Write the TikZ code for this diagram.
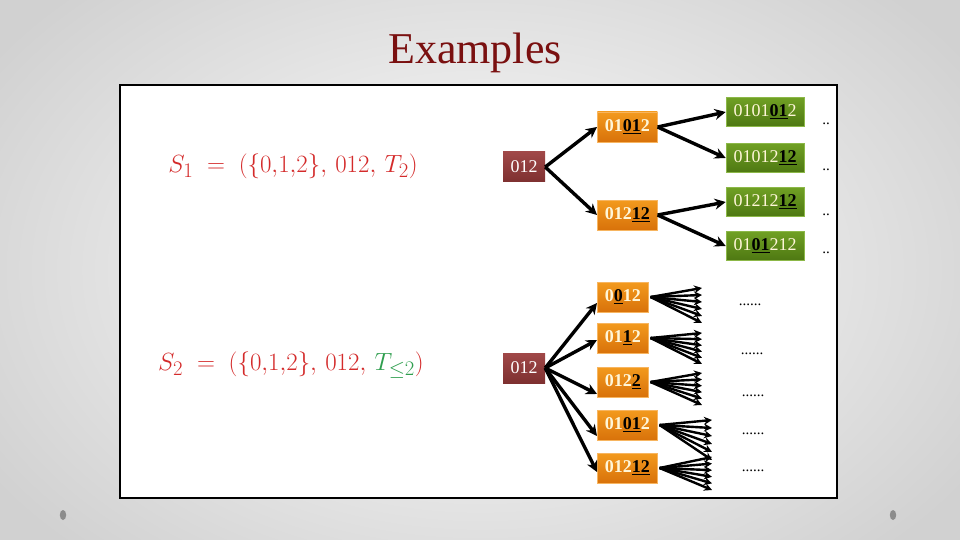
\documentclass[tikz,border=0pt]{standalone}
\usepackage{fontspec}
\setmainfont{Liberation Serif}
\usetikzlibrary{arrows.meta}
\definecolor{titlered}{HTML}{7A1010}
\definecolor{maroonT}{HTML}{A04848}
\definecolor{maroonB}{HTML}{7E3030}
\definecolor{orangeT}{HTML}{F39A1E}
\definecolor{orangeB}{HTML}{D8720A}
\definecolor{orangeE}{HTML}{F7B560}
\definecolor{greenT}{HTML}{70A024}
\definecolor{greenB}{HTML}{4E7812}
\definecolor{greenE}{HTML}{8CB848}
\definecolor{cream}{HTML}{FFF6D8}
\definecolor{formred}{HTML}{D42A2A}
\definecolor{formgreen}{HTML}{2E9E4E}
\newcommand{\ulb}[1]{{\color{black}\underline{\textbf{#1}}}}
\begin{document}
\begin{tikzpicture}[x=1pt,y=-1pt,
  rootbox/.style={top color=maroonT, bottom color=maroonB, text=white, minimum width=42pt, minimum height=30pt, inner sep=0pt, font=\fontsize{18}{18}\selectfont},
  orbox/.style={top color=orangeT, bottom color=orangeB, draw=orangeE, line width=0.6pt, text=cream, minimum height=30pt, inner sep=0pt, font=\fontsize{18}{18}\selectfont\bfseries, anchor=west},
  grbox/.style={top color=greenT, bottom color=greenB, draw=greenE, line width=0.6pt, text=cream, minimum width=78pt, minimum height=29pt, inner sep=0pt, font=\fontsize{18}{18}\selectfont},
  arr/.style={line width=3.4pt, -{Stealth[length=11pt,width=11pt]}},
  fan/.style={line width=2.4pt, -{Stealth[length=8pt,width=8pt]}},
  dots/.style={font=\fontsize{15}{15}\selectfont, inner sep=0pt},
  form/.style={text=formred, font=\fontsize{30}{30}\selectfont, inner sep=0pt}
]
\useasboundingbox (0,0) rectangle (960,540);
\shade[inner color=white, outer color=black!18, shading=radial] (-100,-120) rectangle (1060,660);
\draw[line width=2pt, fill=white] (120,85) rectangle (837,498);
\node[text=titlered, font=\fontsize{44}{44}\selectfont, inner sep=0pt] (title) at (475,53) {Examples};
\fill[black!45] (63,515) ellipse (3.2pt and 5pt);
\fill[black!45] (893,515) ellipse (3.2pt and 5pt);

% formulas
\node[form] (s1) at (293,166) {$S_1\;=\;(\{0{,}1{,}2\},\,012,\,T_2)$};
\node[form] (s2) at (291,365) {$S_2\;=\;(\{0{,}1{,}2\},\,012,\,{\color{formgreen}T_{\le 2}})$};

% top tree
\node[rootbox] (r1) at (524,167) {012};
\node[orbox, minimum width=60pt] (a1) at (597,127) {01\ulb{01}2};
\node[orbox, minimum width=60pt] (a2) at (597,215) {012\ulb{12}};
\node[grbox] (g1) at (765,112) {0101\ulb{01}2};
\node[grbox] (g2) at (765,158) {01012\ulb{12}};
\node[grbox] (g3) at (765,202) {01212\ulb{12}};
\node[grbox] (g4) at (765,246) {01\ulb{01}212};
\node[dots] (d1) at (826,124) {..};
\node[dots] (d2) at (826,170) {..};
\node[dots] (d3) at (826,215) {..};
\node[dots] (d4) at (826,253) {..};
\draw[arr] (r1.east) -- (a1.west);
\draw[arr] (r1.east) -- (a2.west);
\draw[arr] (a1.east) -- (g1.west);
\draw[arr] (a1.east) -- (g2.west);
\draw[arr] (a2.east) -- (g3.west);
\draw[arr] (a2.east) -- (g4.west);

% bottom tree
\node[rootbox] (r2) at (524,368) {012};
\node[orbox, minimum width=51pt] (b1) at (597,297) {0\ulb{0}12};
\node[orbox, minimum width=51pt] (b2) at (597,338) {01\ulb{1}2};
\node[orbox, minimum width=51pt] (b3) at (597,382) {012\ulb{2}};
\node[orbox, minimum width=60pt] (b4) at (597,425) {01\ulb{01}2};
\node[orbox, minimum width=60pt] (b5) at (597,468) {012\ulb{12}};
\draw[arr] (r2.east) -- ([yshift=-6pt]b1.west);
\draw[arr] (r2.east) -- ([yshift=-2pt]b2.west);
\draw[arr] (r2.east) -- ([yshift=-12pt]b3.west);
\draw[arr] (r2.east) -- ([yshift=-11pt]b4.west);
\draw[arr] (r2.east) -- ([yshift=-4pt]b5.west);

\foreach \b/\tx/\ya/\yb in {b1/702/288/323, b2/702/333/364, b3/702/373/405, b4/712/420/460, b5/712/457/490}{
  \foreach \i in {0,...,5}{
    \coordinate (\b t\i) at (\tx, {\ya+(\yb-\ya)*\i/5});
    \draw[fan] ([xshift=2pt]\b.east) -- (\b t\i);
  }
}
\node[dots] (e1) at (750,305) {......};
\node[dots] (e2) at (752,354) {......};
\node[dots] (e3) at (753,396) {......};
\node[dots] (e4) at (753,434) {......};
\node[dots] (e5) at (753,471) {......};
\end{tikzpicture}
\end{document}
